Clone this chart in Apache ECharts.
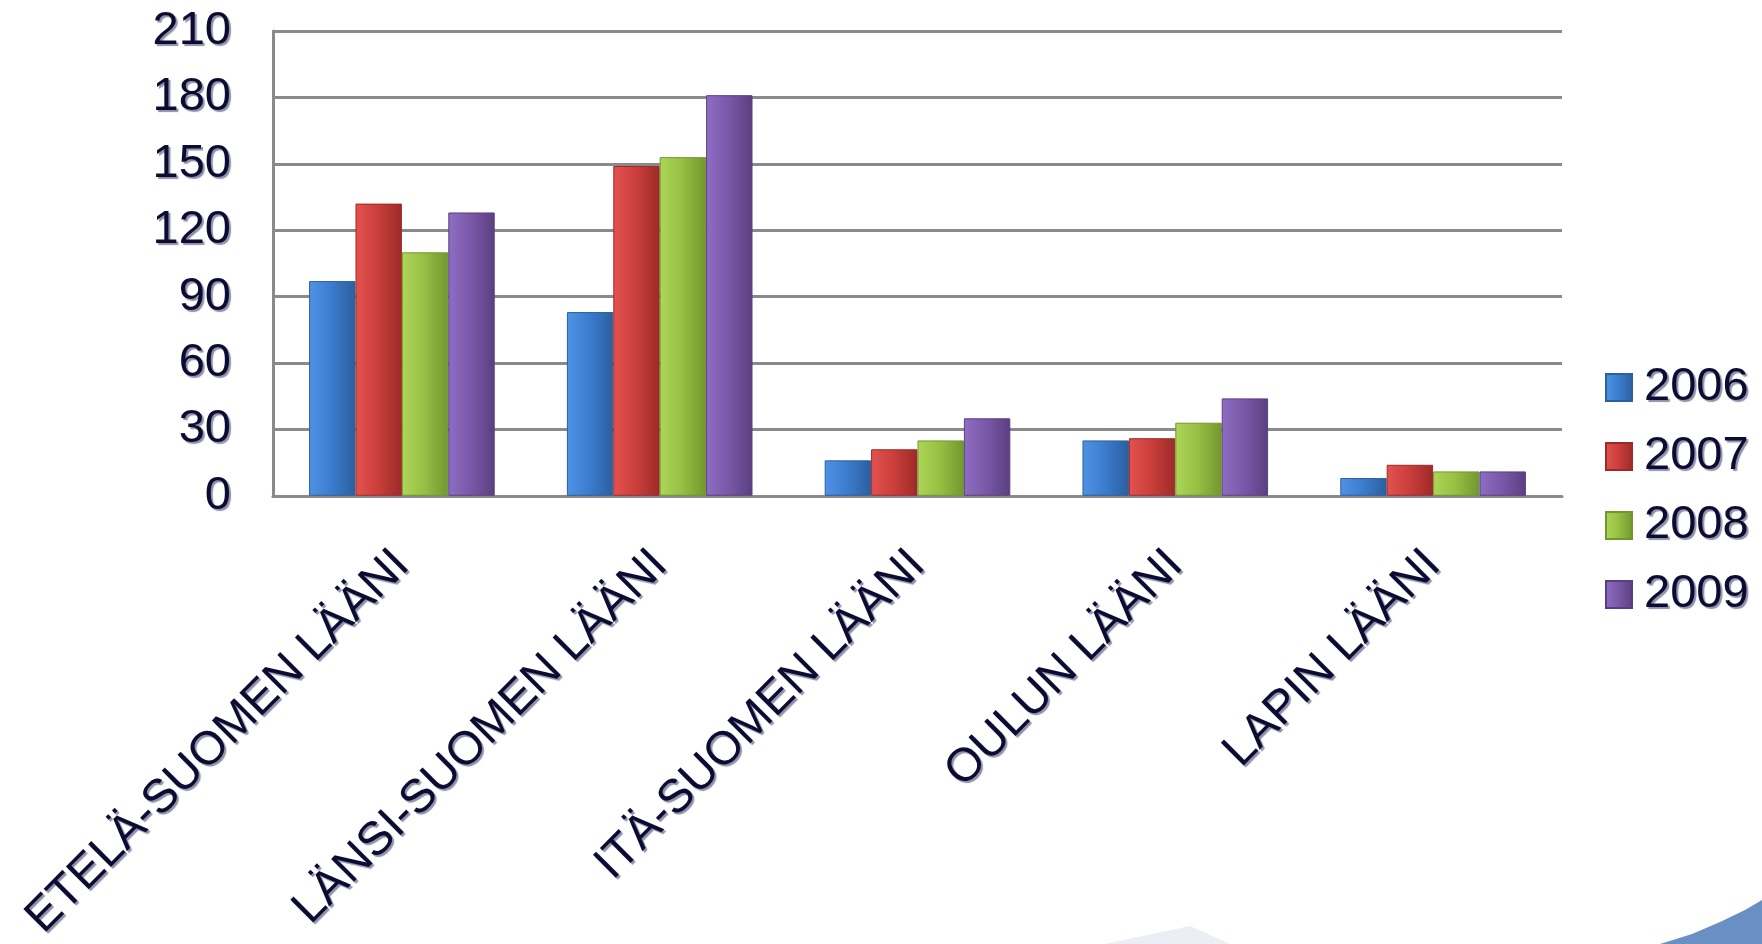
<!DOCTYPE html>
<html><head><meta charset="utf-8">
<script src="https://cdn.jsdelivr.net/npm/echarts@6/dist/echarts.min.js"></script>
<style>html,body{margin:0;padding:0;background:#fff}#c{width:1762px;height:944px}</style>
</head><body><div id="c"></div>
<script>
const categories = ['ETELÄ-SUOMEN LÄÄNI','LÄNSI-SUOMEN LÄÄNI','ITÄ-SUOMEN LÄÄNI','OULUN LÄÄNI','LAPIN LÄÄNI'];
const seriesNames = ['2006','2007','2008','2009'];
const v2006 = [97, 83, 16, 25, 8];
const v2007 = [132, 149, 21, 26, 14];
const v2008 = [110, 153, 25, 33, 11];
const v2009 = [128, 181, 35, 44, 11];
const yTicks = [0, 30, 60, 90, 120, 150, 180, 210];
const values = [v2006, v2007, v2008, v2009];
const colors = [['#4f93e6','#3b7bcc','#2b5f9e'],['#e4524f','#c93e3b','#9c2a28'],['#aed758','#95be43','#72962e'],['#8e6ec4','#7957a6','#5a3f80']];

const chart = echarts.init(document.getElementById('c'));
const txt = {color:'#0c0c33', fontFamily:'Liberation Sans, Arial, sans-serif', textShadowColor:'rgba(70,70,110,0.6)', textShadowOffsetX:2, textShadowOffsetY:2, textShadowBlur:1};
chart.setOption({
  backgroundColor:'#ffffff',
  animation:false,
  graphic:[
    {type:'polygon', z:-1, shape:{points:[[1660,944],[1692,934],[1720,922],[1745,910],[1762,900],[1762,944]]}, style:{fill:'#6a8fc4'}},
    {type:'polygon', z:-1, shape:{points:[[1105,944],[1190,926],[1230,944]]}, style:{fill:'#eceef5'}}
  ],
  grid:{left:273, right:200, top:31, bottom:447},
  legend:{orient:'vertical', left:1600, top:359, itemWidth:26, itemHeight:27, itemGap:22,
    data:seriesNames, textStyle:Object.assign({fontSize:47, lineHeight:47, padding:[0,0,0,7]}, txt), icon:'rect'},
  xAxis:{type:'category', data:categories,
    axisLine:{lineStyle:{color:'#8a8a8a', width:3}}, axisTick:{show:false},
    axisLabel:Object.assign({rotate:45, fontSize:47, interval:0, margin:62}, txt)},
  yAxis:{type:'value', min:yTicks[0], max:yTicks[yTicks.length-1], interval:yTicks[1]-yTicks[0],
    axisLine:{show:true, lineStyle:{color:'#8a8a8a', width:3}}, axisTick:{show:false},
    splitLine:{lineStyle:{color:'#8a8a8a', width:3}},
    axisLabel:Object.assign({fontSize:47, margin:42}, txt)},
  series: seriesNames.map((n,i)=>({
    name:n, type:'bar', data:values[i], barGap:'0%', barCategoryGap:'28%',
    itemStyle:{
      color:new echarts.graphic.LinearGradient(0,0,1,0,[{offset:0,color:colors[i][0]},{offset:0.5,color:colors[i][1]},{offset:1,color:colors[i][2]}]),
      borderColor:colors[i][2], borderWidth:1
    }
  }))
});
</script></body></html>
